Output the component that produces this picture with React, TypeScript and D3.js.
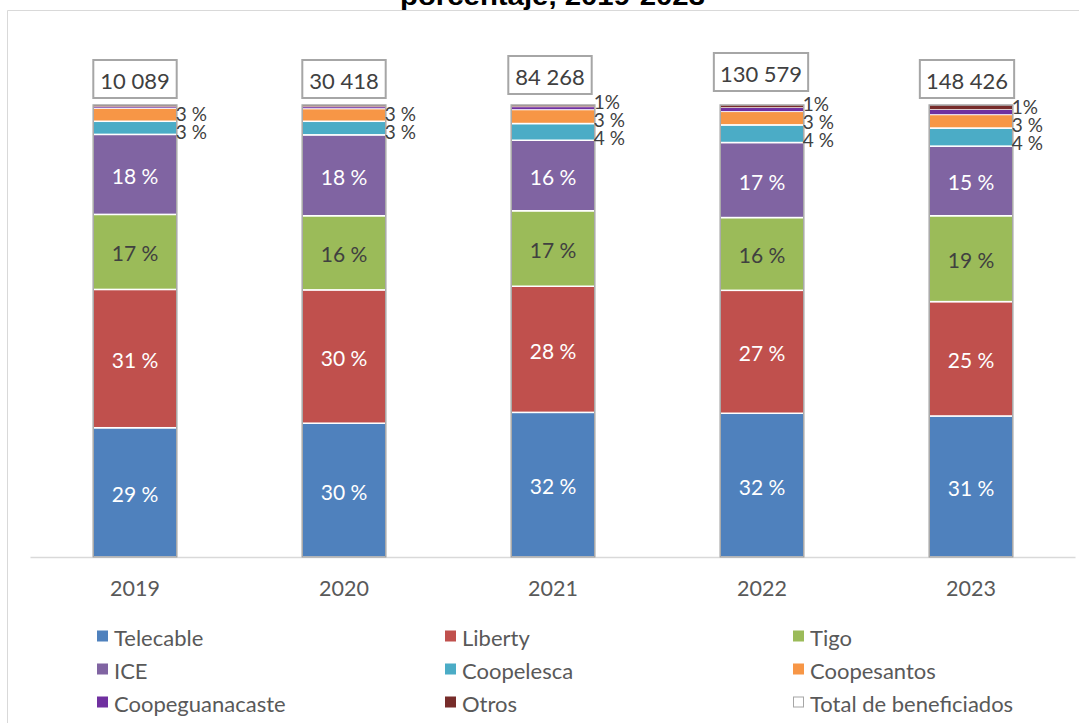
import React from 'react';
import * as d3 from 'd3';

const years = ['2019', '2020', '2021', '2022', '2023'];
const seriesNames = ['Telecable', 'Liberty', 'Tigo', 'ICE', 'Coopelesca', 'Coopesantos', 'Coopeguanacaste', 'Otros'];
const telecable = [28.6, 29.6, 32.0, 31.8, 31.2];
const liberty = [30.6, 29.5, 27.9, 27.2, 25.3];
const tigo = [16.6, 16.4, 16.7, 16.1, 19.0];
const ice = [17.7, 17.9, 15.6, 16.6, 15.4];
const coopelesca = [2.9, 3.0, 3.7, 3.9, 4.0];
const coopesantos = [2.9, 2.8, 3.1, 3.0, 3.0];
const coopeguanacaste = [0.3, 0.4, 0.6, 0.8, 1.1];
const otros = [0.4, 0.4, 0.4, 0.6, 1.0];
const totals = [10089, 30418, 84268, 130579, 148426];
const totalLabel = 'Total de beneficiados';
const titleText = 'porcentaje, 2019-2023';

const seriesValues = [telecable, liberty, tigo, ice, coopelesca, coopesantos, coopeguanacaste, otros];
const colors = ['#4F81BD', '#C0504D', '#9BBB59', '#8064A2', '#4BACC6', '#F79646', '#7030A0', '#772C2A'];
const insideLabelColor = ['#FFFFFF', '#FFFFFF', '#404040', '#FFFFFF'];
// manual nudges of total labels (Excel-like placement)
const totalNudge = [[0, -26], [0, -26], [-3, -30], [-1, -33], [-4, -26]];

const W = 1079;
const H = 723;
const FONT = "Lato, 'Open Sans', sans-serif";

const rows = years.map((y, i) => {
  const r: any = { year: y };
  seriesNames.forEach((s, k) => (r[s] = seriesValues[k][i]));
  return r;
});

const locale = d3.formatLocale({ decimal: ',', thousands: ' ', grouping: [3], currency: ['', ''] });
const fmtTotal = locale.format(',');

export default function App() {
  const x = d3.scaleBand().domain(years).range([30.5, 1075.5]).paddingInner(0.6).paddingOuter(0.3);
  const y = d3.scaleLinear().domain([0, 100]).range([557, 105]);
  const stack = d3.stack().keys(seriesNames)(rows as any);
  const bw = x.bandwidth();

  // outer labels for small top series (Coopelesca, Coopesantos, Coopeguanacaste)
  const outerLabels: any[] = [];
  years.forEach((yr, i) => {
    const items: any[] = [];
    [4, 5, 6].forEach((k) => {
      const seg = stack[k][i];
      const v = seriesValues[k][i];
      const r = Math.round(v);
      if (r < 1) return;
      items.push({
        k,
        text: k === 6 ? `${r}%` : `${r} %`,
        cy: (y(seg[0]) + y(seg[1])) / 2,
      });
    });
    items.sort((a, b) => a.cy - b.cy);
    const gap = 18;
    let overlap = false;
    for (let j = 1; j < items.length; j++) if (items[j].cy - items[j - 1].cy < gap) overlap = true;
    if (overlap) {
      const mean = d3.mean(items, (d) => d.cy) as number;
      items.forEach((d, j) => (d.cy = mean + (j - (items.length - 1) / 2) * gap + 1));
    }
    items.forEach((d) => outerLabels.push({ ...d, x: (x(yr) as number) + bw - 1, key: yr + d.k }));
  });

  const legendCols = [97, 445, 793];
  const legendRows = [636, 669, 702];
  const legendItems = [...seriesNames.map((s, k) => ({ name: s, color: colors[k], total: false })), { name: totalLabel, color: '#FFFFFF', total: true }];

  return (
    <svg width={W} height={H} style={{ position: 'absolute', left: 0, top: 0, background: '#fff' }} fontFamily={FONT}>
      <rect x={0} y={0} width={W} height={H} fill="#fff" />
      {/* chart frame */}
      <line x1={7.5} y1={10.5} x2={W} y2={10.5} stroke="#D9D9D9" strokeWidth={1} />
      <line x1={7.5} y1={10.5} x2={7.5} y2={H} stroke="#D9D9D9" strokeWidth={1} />
      {/* title (partially cut) */}
      <text x={552.5} y={4.5} textAnchor="middle" fontFamily="'Liberation Sans', Arial, sans-serif" fontWeight="bold" fontSize={26} textLength={305} lengthAdjust="spacingAndGlyphs" fill="#000">
        {titleText}
      </text>
      {/* axis line */}
      <line x1={30.5} x2={1075.5} y1={557.5} y2={557.5} stroke="#D9D9D9" strokeWidth={1.5} />
      {/* segments */}
      {stack.map((layer, k) =>
        layer.map((seg, i) => (
          <rect
            key={`${k}-${i}`}
            x={x(years[i])}
            y={y(seg[1])}
            width={bw}
            height={Math.max(0, y(seg[0]) - y(seg[1]))}
            fill={colors[k]}
            stroke="#FFFFFF"
            strokeWidth={k >= 6 ? 0.6 : 1.5}
          />
        ))
      )}
      {/* Total series outline */}
      {years.map((yr) => (
        <rect key={'tot' + yr} x={x(yr)} y={y(100)} width={bw} height={y(0) - y(100)} fill="none" stroke="#A6A6A6" strokeWidth={1.5} />
      ))}
      {/* inside labels */}
      {stack.slice(0, 4).map((layer, k) =>
        layer.map((seg, i) => (
          <text
            key={`l${k}-${i}`}
            x={(x(years[i]) as number) + bw / 2}
            y={(y(seg[0]) + y(seg[1])) / 2 + 1}
            textAnchor="middle"
            dominantBaseline="central"
            fontSize={21}
            fill={insideLabelColor[k]}
          >
            {`${Math.round(seriesValues[k][i])} %`}
          </text>
        ))
      )}
      {/* outer labels */}
      {outerLabels.map((d) => (
        <text key={d.key} x={d.x} y={d.cy} dominantBaseline="central" fontSize={19} fill="#404040">
          {d.text}
        </text>
      ))}
      {/* total labels */}
      {years.map((yr, i) => {
        const t = fmtTotal(totals[i]);
        const cx = (x(yr) as number) + bw / 2 + totalNudge[i][0];
        const cy = y(100) + totalNudge[i][1];
        const tw = t.length * 10.9;
        const w = tw + 18;
        return (
          <g key={'tl' + yr}>
            <rect x={cx - w / 2} y={cy - 19} width={w} height={38} fill="#fff" stroke="#A6A6A6" strokeWidth={2} />
            <text x={cx} y={cy + 1} textAnchor="middle" dominantBaseline="central" fontSize={22} fill="#404040">
              {t}
            </text>
          </g>
        );
      })}
      {/* x-axis labels */}
      {years.map((yr) => (
        <text key={'x' + yr} x={(x(yr) as number) + bw / 2} y={588} textAnchor="middle" dominantBaseline="central" fontSize={21.5} fill="#595959">
          {yr}
        </text>
      ))}
      {/* legend */}
      {legendItems.map((it, j) => {
        const cx = legendCols[j % 3];
        const cy = legendRows[Math.floor(j / 3)];
        return (
          <g key={'lg' + it.name}>
            <rect
              x={cx + (it.total ? 0.5 : 0)}
              y={cy - 5.5 + (it.total ? 0.5 : 0)}
              width={it.total ? 10 : 11}
              height={it.total ? 10 : 11}
              fill={it.color}
              stroke={it.total ? '#A6A6A6' : 'none'}
              strokeWidth={1}
            />
            <text x={cx + 17} y={cy + 1} dominantBaseline="central" fontSize={22} fill="#595959">
              {it.name}
            </text>
          </g>
        );
      })}
    </svg>
  );
}
